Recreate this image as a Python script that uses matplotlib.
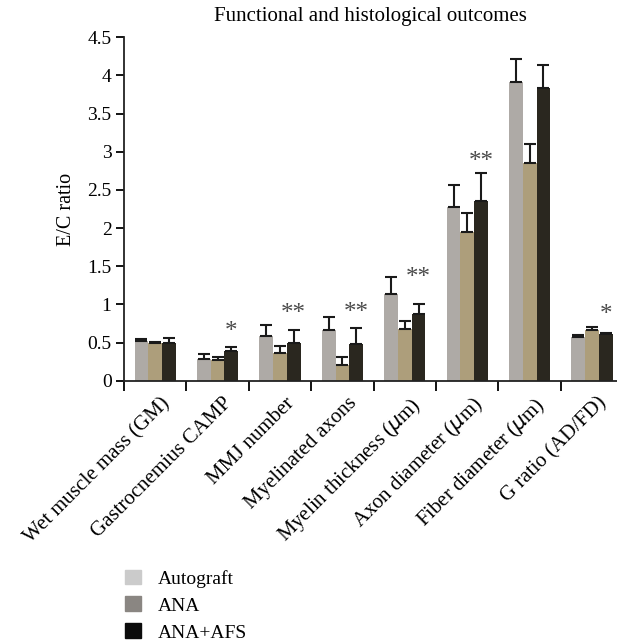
import numpy as np
import matplotlib
matplotlib.use("Agg")
import matplotlib.pyplot as plt
from matplotlib.patches import Patch

plt.rcParams["font.family"] = ["Liberation Serif", "DejaVu Serif"]

categories = ["Wet muscle mass (GM)", "Gastrocnemius CAMP", "MMJ number",
              "Myelinated axons", "Myelin thickness ($\\mu$m)",
              "Axon diameter ($\\mu$m)", "Fiber diameter ($\\mu$m)", "G ratio (AD/FD)"]
series = ["Autograft", "ANA", "ANA+AFS"]

autograft = [0.52, 0.29, 0.58, 0.66, 1.13, 2.28, 3.92, 0.57]
autograft_err = [0.025, 0.055, 0.15, 0.17, 0.23, 0.29, 0.29, 0.03]
ana = [0.50, 0.27, 0.36, 0.21, 0.68, 1.95, 2.85, 0.67]
ana_err = [0.01, 0.045, 0.095, 0.105, 0.10, 0.25, 0.25, 0.03]
afs = [0.50, 0.39, 0.49, 0.48, 0.87, 2.35, 3.83, 0.61]
afs_err = [0.06, 0.055, 0.175, 0.21, 0.14, 0.37, 0.30, 0.01]

stars = ["", "*", "**", "**", "**", "**", "", "*"]
star_y = [0, 0.64, 0.87, 0.89, 1.34, 2.86, 0, 0.86]

bar_colors = ["#aeaaa6", "#ad9e7b", "#2a271f"]
legend_colors = ["#cbcbcb", "#8a8682", "#0b0b0b"]

fig = plt.figure(figsize=(6.17, 6.42), dpi=100)
ax = fig.add_axes([0.201, 0.407, 0.799, 0.535])

x = np.arange(len(categories))
w = 0.22
vals = [autograft, ana, afs]
errs = [autograft_err, ana_err, afs_err]
for i in range(3):
    ax.bar(x + (i - 1) * w, vals[i], w, color=bar_colors[i], edgecolor="none",
           yerr=[np.zeros(len(x)), errs[i]], capsize=4,
           error_kw=dict(ecolor="#1a1a1a", elinewidth=1.5, capthick=1.5))

for xi, s, sy in zip(x, stars, star_y):
    if s:
        ax.text(xi + w, sy, s, ha="center", va="center", fontsize=18, color="#4a4a4a")

ax.set_xlim(-0.5, 7.4)
ax.set_ylim(0, 4.5)
ax.set_yticks(np.arange(0, 4.6, 0.5))
ax.set_yticklabels(["0", "0.5", "1", "1.5", "2", "2.5", "3", "3.5", "4", "4.5"])
ax.set_xticks(np.arange(-0.5, 7.5, 1))
ax.set_xticklabels([])
ax.tick_params(axis="x", length=7, width=1.3, direction="out")
ax.tick_params(axis="y", length=6, width=1.3, labelsize=14, pad=3)
for xi, lab in zip(x, categories):
    ax.text(xi + 0.08, -0.17, lab, rotation=45, ha="right", va="top",
            rotation_mode="anchor", fontsize=15, transform=ax.transData)

for sp in ["top", "right"]:
    ax.spines[sp].set_visible(False)
for sp in ["left", "bottom"]:
    ax.spines[sp].set_linewidth(1.3)
    ax.spines[sp].set_color("#222222")

ax.set_ylabel("E/C ratio", fontsize=14.5, labelpad=8)
ax.set_title("Functional and histological outcomes", fontsize=15, pad=12)

handles = [Patch(color=c) for c in legend_colors]
fig.legend(handles, series, loc="upper left", bbox_to_anchor=(0.19, 0.125),
           frameon=False, fontsize=14, handlelength=0.8, handleheight=0.8,
           handletextpad=0.9, labelspacing=0.45, borderaxespad=0)

fig.savefig("out.png", dpi=100)
